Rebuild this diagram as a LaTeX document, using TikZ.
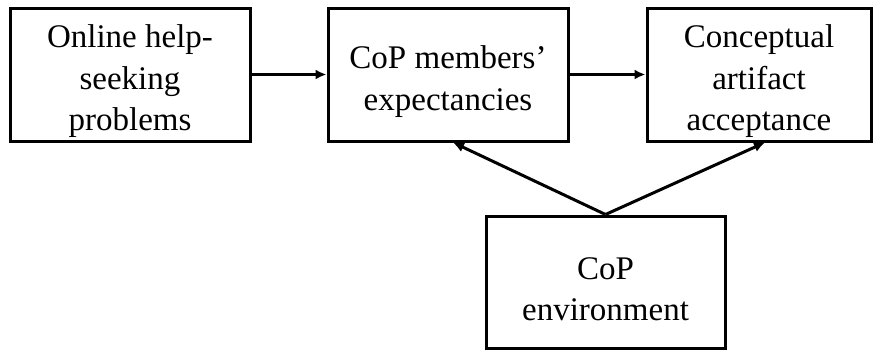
\documentclass[tikz,border=0pt]{standalone}
\usepackage{fontspec}
\setmainfont{Liberation Serif}
\usetikzlibrary{arrows.meta,calc}
\begin{document}
\begin{tikzpicture}[x=1pt,y=-1pt,
  box/.style={draw=black,line width=3pt,rectangle,inner sep=0pt},
  txt/.style={align=center,inner sep=0pt,font=\fontsize{33}{41.5}\selectfont},
  conn/.style={line width=3pt,-{Latex[length=11pt,width=10pt]}}]
\path[use as bounding box] (0,0) rectangle (879,351);
\node[box,minimum width=240pt,minimum height=133pt] (b1) at (130,74.5) {};
\node[box,minimum width=240pt,minimum height=133pt] (b2) at (448,74.5) {};
\node[box,minimum width=224pt,minimum height=133pt] (b3) at (759,74.5) {};
\node[box,minimum width=239pt,minimum height=132pt] (b4) at (605.5,282) {};
\node[txt] (b1t) at ($(b1)+(0,7)$) {Online help-\\seeking\\problems};
\node[txt] (b2t) at ($(b2)+(0,7)$) {CoP members’\\expectancies};
\node[txt] (b3t) at ($(b3)+(0,7)$) {Conceptual\\artifact\\acceptance};
\node[txt] (b4t) at ($(b4)+(0,7)$) {CoP\\environment};
\coordinate (src) at (b4.north);
\coordinate (t2) at ($(b2.south)+(5,0)$);
\coordinate (t3) at ($(b3.south)+(6,0)$);
\draw[conn] (b1.east) -- (b2.west);
\draw[conn] (b2.east) -- (b3.west);
\draw[conn] (src) -- (t2);
\draw[conn] (src) -- (t3);
\end{tikzpicture}
\end{document}
